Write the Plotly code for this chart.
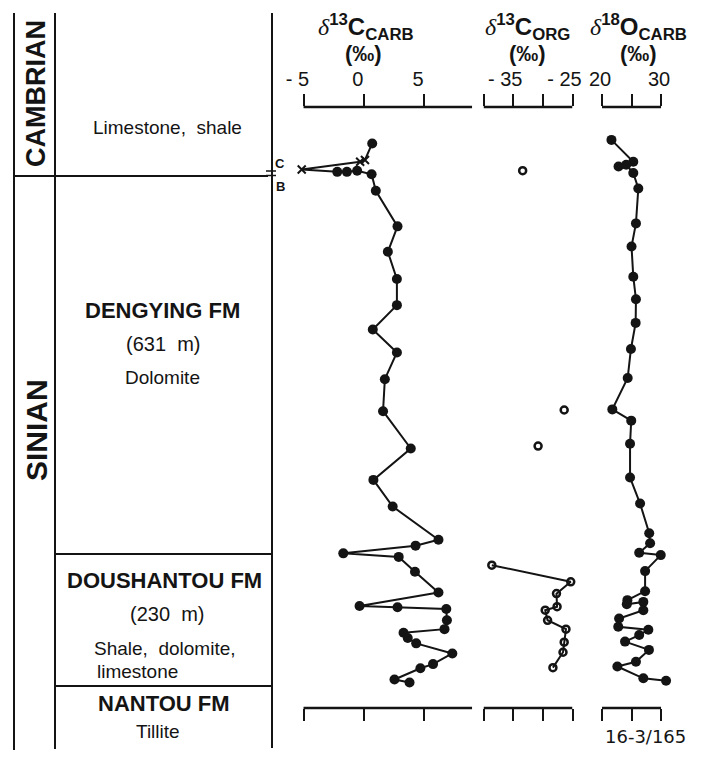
import plotly.graph_objects as go

W, H = 702, 757

# ---------------------------------------------------------------------------
# Section data: stratigraphic height (m) above the top of the Nantou tillite
# ---------------------------------------------------------------------------
carb_height = [916, 888, 885, 872, 868, 868, 870, 864, 836, 776, 733, 687, 643,
               602, 563, 518, 464, 401, 348, 303, 247, 237, 224, 218, 193, 158,
               135, 133, 130, 111, 96, 90, 81, 72, 55, 37, 30, 11, 6]
carb_d13c = [0.7, 0.1, -0.3, -5.15, -2.2, -1.4, -0.55, 0.65, 1.0, 2.8, 2.0, 2.75,
             2.75, 0.75, 2.75, 1.75, 1.6, 3.9, 0.8, 2.4, 6.2, 4.3, -1.7, 2.9, 4.25,
             6.2, -0.35, 2.8, 6.85, 6.9, 6.7, 3.3, 3.65, 4.35, 7.35, 5.75, 4.7,
             2.55, 3.8]
# samples marked with a cross (Cambrian side of the C/B boundary)
carb_cross = [False, True, True, True] + [False] * 35

org_height_single = [870, 466, 405]
org_d13c_single = [-33.4, -26.4, -30.8]
org_height_dsh = [204, 176, 156, 134, 128, 111, 96, 74, 57, 31]
org_d13c_dsh = [-38.6, -25.3, -27.7, -27.6, -29.6, -29.2, -26.1, -26.4, -26.6, -28.3]

o18_height = [922, 885, 877, 880, 866, 840, 781, 742, 691, 653, 613, 569, 520,
              467, 448, 409, 352, 308, 258, 241, 225, 221, 194, 160, 145, 138,
              142, 128, 114, 100, 95, 86, 75, 61, 41, 33, 13, 9]
o18_d18o = [21.6, 25.3, 22.8, 24.1, 25.3, 26.15, 25.75, 25.0, 25.3, 25.75, 25.7,
            24.9, 24.35, 21.75, 24.95, 24.75, 24.75, 26.45, 28.0, 28.15, 26.3,
            29.95, 27.3, 27.3, 24.3, 24.2, 27.0, 27.0, 22.9, 22.75, 27.85, 26.3,
            23.9, 27.95, 25.75, 22.6, 27.0, 30.85]

# axis ticks and labels
carb_ticks = [-5, 0, 5]
carb_ticktext = ["- 5", "0", "5"]
org_ticks = [-40, -35, -30, -25]
org_ticktext = ["", "- 35", "", "- 25"]
o18_ticks = [20, 25, 30]
o18_ticktext = ["20", "", "30"]

# formation tops (m) drawn across the lithology column
formation_tops = [861, 223, 0]

# ---------------------------------------------------------------------------
INK = "#141414"
FONT = "Liberation Sans, Arial, Helvetica, sans-serif"

PLOT_TOP, PLOT_BOTTOM = 107, 708
Y_RANGE = [-37.1, 977.5]


def fx(p):
    return p / W


def fy(p):
    return (PLOT_BOTTOM - p) / (PLOT_BOTTOM - PLOT_TOP)


fig = go.Figure()

fig.add_trace(go.Scatter(
    x=carb_d13c, y=carb_height, xaxis="x", yaxis="y", mode="lines+markers",
    line=dict(color=INK, width=2),
    marker=dict(
        symbol=["x-thin-open" if c else "circle" for c in carb_cross],
        size=[8 if c else 10 for c in carb_cross],
        color=INK, opacity=1,
        line=dict(color=INK, width=[2 if c else 0 for c in carb_cross]),
    ),
    cliponaxis=False, showlegend=False, hoverinfo="skip",
))

fig.add_trace(go.Scatter(
    x=org_d13c_single, y=org_height_single, xaxis="x2", yaxis="y", mode="markers",
    marker=dict(symbol="circle-open", size=7, color=INK, opacity=1,
                line=dict(color=INK, width=2.5)),
    cliponaxis=False, showlegend=False, hoverinfo="skip",
))
fig.add_trace(go.Scatter(
    x=org_d13c_dsh, y=org_height_dsh, xaxis="x2", yaxis="y", mode="lines+markers",
    line=dict(color=INK, width=2),
    marker=dict(symbol="circle-open", size=7, color=INK, opacity=1,
                line=dict(color=INK, width=2.5)),
    cliponaxis=False, showlegend=False, hoverinfo="skip",
))

fig.add_trace(go.Scatter(
    x=o18_d18o, y=o18_height, xaxis="x3", yaxis="y", mode="lines+markers",
    line=dict(color=INK, width=2),
    marker=dict(symbol="circle", size=10, color=INK, opacity=1),
    cliponaxis=False, showlegend=False, hoverinfo="skip",
))


def xaxis_style(domain, rng, ticks, text, shift):
    return dict(
        domain=domain, range=rng, anchor="y", side="top",
        tickmode="array", tickvals=ticks, ticktext=text,
        ticks="outside", ticklen=12, tickwidth=2, tickcolor=INK,
        mirror="allticks", showline=False, showgrid=False, zeroline=False,
        tickfont=dict(family=FONT, size=20, color=INK),
        ticklabelshift=shift, ticklabelstandoff=0, fixedrange=True,
        automargin=False,
    )


carb_rng = [-5.6, 9]
org_rng = [-40, -25]
o18_rng = [20, 31.5]

fig.update_layout(
    width=W, height=H, autosize=False,
    margin=dict(l=0, r=0, t=PLOT_TOP, b=H - PLOT_BOTTOM, pad=0, autoexpand=False),
    paper_bgcolor="white", plot_bgcolor="white",
    xaxis=xaxis_style([fx(296.3), fx(472.2)], carb_rng, carb_ticks, carb_ticktext, -6),
    xaxis2=xaxis_style([fx(483.5), fx(572.5)], org_rng, org_ticks, org_ticktext, -8),
    xaxis3=xaxis_style([fx(602), fx(669.9)], o18_rng, o18_ticks, o18_ticktext, -2),
    yaxis=dict(domain=[0, 1], range=Y_RANGE, visible=False, fixedrange=True,
               automargin=False),
)

shapes = []
# axis bars (top and bottom) spanning the scale of each profile
for ref, x0, x1 in [("x", -5, 9), ("x2", -40, -25), ("x3", 20, 30)]:
    for yy in (0, 1):
        shapes.append(dict(type="line", xref=ref, yref="paper", x0=x0, x1=x1,
                           y0=yy, y1=yy, line=dict(color=INK, width=2.5)))

# lithology column frame
for xp, y_end in [(14, 750), (55, 749), (272, 748)]:
    shapes.append(dict(type="line", xref="paper", yref="paper",
                       x0=fx(xp), x1=fx(xp), y0=fy(13), y1=fy(y_end),
                       line=dict(color=INK, width=2)))
# system boundary spans the full column, formation tops only the right part
shapes.append(dict(type="line", xref="paper", yref="y", x0=fx(14), x1=fx(268),
                   y0=formation_tops[0], y1=formation_tops[0],
                   line=dict(color=INK, width=2)))
for top in formation_tops[1:]:
    shapes.append(dict(type="line", xref="paper", yref="y", x0=fx(55), x1=fx(272),
                       y0=top, y1=top, line=dict(color=INK, width=2)))
# C/B boundary marks
for yp in (171, 175.5):
    shapes.append(dict(type="line", xref="paper", yref="paper", x0=fx(266), x1=fx(276),
                       y0=fy(yp), y1=fy(yp), line=dict(color=INK, width=1.5)))
fig.update_layout(shapes=shapes)

ann = []


def text(t, xp, yp, size, bold=False, xanchor="center", angle=0, family=FONT):
    ann.append(dict(
        text=f"<b>{t}</b>" if bold else t, x=fx(xp), y=fy(yp),
        xref="paper", yref="paper", xanchor=xanchor, yanchor="middle",
        showarrow=False, textangle=angle,
        font=dict(family=family, size=size, color=INK),
    ))


delta = ("<span style='font-family:Liberation Serif, serif;font-style:italic;"
         "font-weight:normal'>δ</span>")
text(f"{delta}<sup>13</sup>C<sub>CARB</sub>", 366, 27, 24, bold=True)
text("(‰)", 363, 53, 22, bold=True)
text(f"{delta}<sup>13</sup>C<sub>ORG</sub>", 527, 27, 24, bold=True)
text("(‰)", 527, 53, 22, bold=True)
text(f"{delta}<sup>18</sup>O<sub>CARB</sub>", 638, 27, 24, bold=True)
text("(‰)", 638, 53, 22, bold=True)

text("CAMBRIAN", 36, 94, 27, bold=True, angle=-90)
text("SINIAN", 36, 430, 30, bold=True, angle=-90)

text("Limestone,  shale", 167, 128, 19)
text("DENGYING FM", 162, 310, 22, bold=True)
text("(631  m)", 163, 344, 20)
text("Dolomite", 162, 377, 19)
text("DOUSHANTOU FM", 164, 580, 22, bold=True)
text("(230  m)", 167, 614, 20)
text("Shale,  dolomite,", 92, 648, 19, xanchor="left")
text("limestone", 95, 671, 19, xanchor="left")
text("NANTOU FM", 164, 703, 22, bold=True)
text("Tillite", 158, 731, 19)

text("C", 280, 163, 13, bold=True)
text("B", 280, 186, 13, bold=True)

text("16-3/165", 645, 736, 18, family="DejaVu Sans, Liberation Sans, sans-serif")

fig.update_layout(annotations=ann)

fig.write_html("out.html")
